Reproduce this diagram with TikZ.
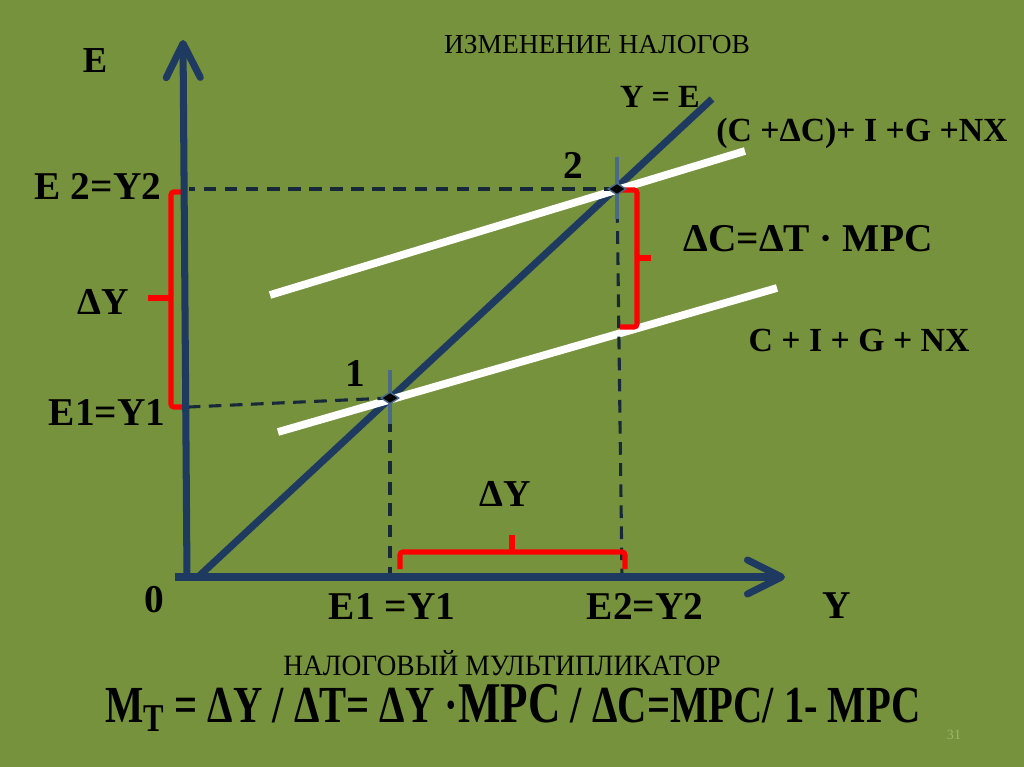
\documentclass[tikz,border=0pt]{standalone}
\usepackage{fontspec}
\setmainfont{Liberation Serif}
\usepackage{tikz}
\usetikzlibrary{arrows.meta,calc,shapes.geometric}
\definecolor{Olive}{HTML}{76923C}
\definecolor{Navy}{HTML}{1F3A60}
\definecolor{Slate}{HTML}{4A6A8C}
\definecolor{Brace}{HTML}{FF0000}
\definecolor{DashInk}{HTML}{17283A}
\definecolor{PageNo}{HTML}{9CB86A}

\begin{document}
\begin{tikzpicture}[x=0.025cm,y=-0.025cm,
  lbl/.style={font=\fontsize{28}{30}\selectfont\bfseries},
  midlbl/.style={font=\fontsize{24}{26}\selectfont\bfseries},
  axis/.style={line width=5pt,color=Navy,-{Straight Barb[round,length=8.5mm,width=8.5mm]}},
  yeline/.style={line width=5pt,color=Navy},
  aeline/.style={line width=5.5pt,color=white},
  guide/.style={line width=2.2pt,color=DashInk,dash pattern=on 9pt off 6pt},
  brace/.style={line width=3.6pt,color=Brace,rounded corners=2pt},
  tick/.style={line width=3pt,color=Slate},
  pt/.style={diamond,fill=black,draw=Slate,line width=1pt,inner sep=0pt,
    minimum width=4.5mm,minimum height=3mm}]
\useasboundingbox (0,0) rectangle (1024,767);
\fill[Olive] (0,0) rectangle (1024,767);
% axes points
\coordinate (o) at (187,578);
\coordinate (xleft) at (175,577);
\coordinate (xend) at (785,577);
\coordinate (ytop) at (183,40);
\coordinate (e1) at (189,407);
\coordinate (e2) at (189,189);
\coordinate (x1) at (390,577);
\coordinate (x2) at (622,577);
% planned spending lines and 45 degree line
\coordinate (ye0) at (197,578);
\coordinate (ye1) at (712,99);
\coordinate (ae1a) at (278,432);
\coordinate (ae1b) at (777,288);
\coordinate (ae2a) at (270,295);
\coordinate (ae2b) at (745,151);
\draw[yeline] (ye0) -- (ye1);
\draw[aeline] (ae1a) -- (ae1b);
\draw[aeline] (ae2a) -- (ae2b);
% equilibria
\coordinate (p1) at (390,398);
\coordinate (p2) at (617,189);
\foreach \x/\y in {p2/e2,p1/e1,p1/x1,p2/x2}\draw[guide] (\x) -- (\y);
% braces
\draw[brace] (187,192) -- (171,192) -- (171,407) -- (187,407);
\draw[brace] (171,298) -- (148,298);
\draw[brace] (619,190) -- (637,190) -- (637,327) -- (620,327);
\draw[brace] (637,258) -- (651,258);
\draw[brace] (400,569) -- (400,552) -- (625,552) -- (625,569);
\draw[brace] (512,552) -- (512,535);
\draw[axis] (o) -- (ytop);
\draw[axis] (xleft) -- (xend);
% markers
\draw[tick] ($(p1)+(0,-28)$) -- ($(p1)+(0,26)$);
\draw[tick] ($(p2)+(0,-32)$) -- ($(p2)+(0,30)$);
\node[pt] (m1) at (p1) {};
\node[pt] (m2) at (p2) {};
% labels
\node[font=\fontsize{26}{28}\selectfont\bfseries] (lE) at (95,61) {E};
\node[font=\fontsize{19.5}{22}\selectfont] (title) at (597,45) {ИЗМЕНЕНИЕ НАЛОГОВ};
\node[font=\fontsize{23}{26}\selectfont\bfseries] (lye) at (660,97) {Y = E};
\node[midlbl] (lae2) at (862,133) {(C +ΔC)+ I +G +NX};
\node[lbl] (l2) at (573,165) {2};
\node[lbl] (le2) at (98,186) {E 2=Y2};
\node[font=\fontsize{27}{30}\selectfont\bfseries] (ldy1) at (103,302) {ΔY};
\node[lbl] (ldc) at (808,239) {ΔC=ΔT · MPC};
\node[midlbl] (lae1) at (859,340) {C + I + G + NX};
\node[lbl] (l1) at (355,374) {1};
\node[lbl] (le1) at (107,413) {E1=Y1};
\node[font=\fontsize{27}{30}\selectfont\bfseries] (ldy2) at (505,494) {ΔY};
\node[lbl] (l0) at (154,600) {0};
\node[lbl] (lx1) at (392,606) {E1 =Y1};
\node[lbl] (lx2) at (645,606) {E2=Y2};
\node[lbl] (lY) at (837,606) {Y};
\node (mult) at (502,663) {\scalebox{0.93}[1]{\fontsize{21}{23}\selectfont НАЛОГОВЫЙ МУЛЬТИПЛИКАТОР}};
\node (formula) at (513,708) {\scalebox{0.78}[1]{\fontsize{37}{40}\selectfont\bfseries
  M\raisebox{-0.35ex}{\fontsize{28}{30}\selectfont T} = ΔY / ΔT= ΔY ·{\fontsize{41}{44}\selectfont MPC} / ΔC=MPC/ 1- MPC}};
\node[font=\fontsize{10}{12}\selectfont,color=PageNo] (pg) at (954,735) {31};
\end{tikzpicture}
\end{document}
